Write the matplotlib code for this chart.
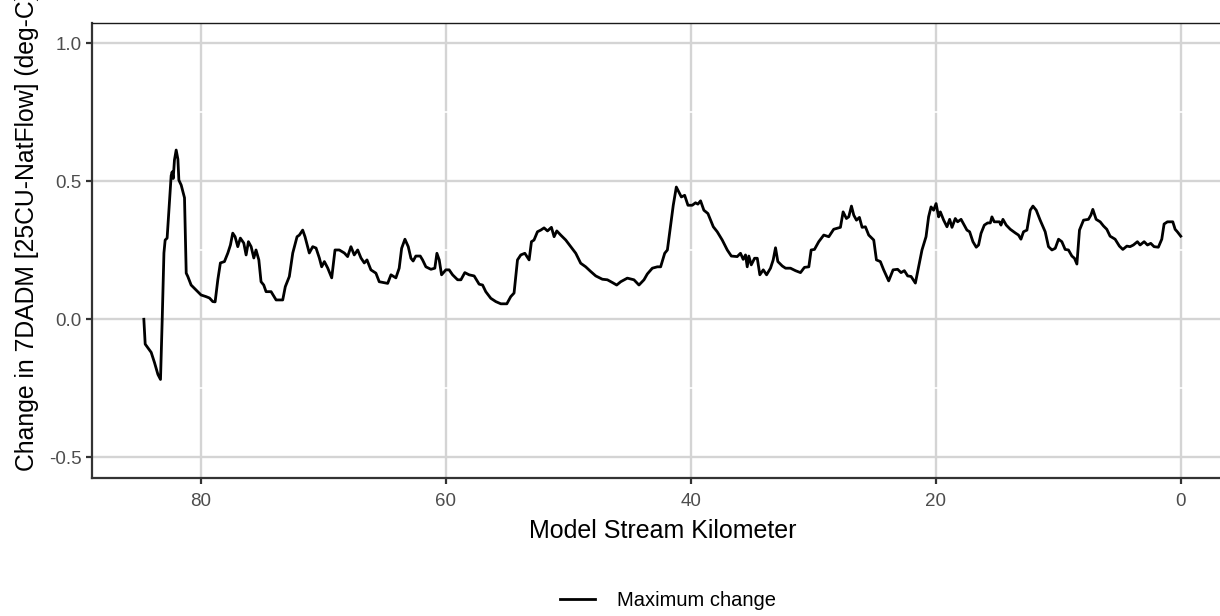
import matplotlib
matplotlib.use("Agg")
import matplotlib.pyplot as plt
from matplotlib.ticker import MultipleLocator, FixedLocator
from matplotlib.lines import Line2D

plt.rcParams['font.family'] = ['Liberation Sans', 'DejaVu Sans']

# Model stream kilometer (reversed axis) and maximum change values
km = [84.67, 84.56, 84.07, 83.80, 83.52, 83.31, 83.17, 83.03, 82.93, 82.77,
      82.66, 82.44, 82.36, 82.27, 82.17, 82.03, 81.89, 81.81, 81.62, 81.35,
      81.21, 81.08, 80.81, 80.40, 80.00, 79.59, 79.31, 79.04, 78.85, 78.63,
      78.42, 78.09, 77.81, 77.60, 77.41, 77.22, 77.00, 76.79, 76.51, 76.32,
      76.13, 75.91, 75.69, 75.51, 75.28, 75.10, 74.88, 74.69, 74.28, 73.87,
      73.33, 73.12, 72.79, 72.51, 72.16, 71.97, 71.70, 71.51, 71.16, 70.88,
      70.61, 70.34, 70.15, 69.93, 69.66, 69.33, 69.06, 68.71, 68.30, 68.03,
      67.76, 67.49, 67.21, 66.94, 66.67, 66.45, 66.13, 65.72, 65.45,
      64.76, 64.49, 64.09, 63.82, 63.62, 63.35, 63.08, 62.86, 62.68, 62.46,
      62.10, 61.91, 61.64, 61.23, 60.91, 60.74, 60.55, 60.36, 60.01, 59.74,
      59.46, 59.05, 58.78, 58.46, 58.11, 57.70, 57.29, 57.01, 56.75, 56.34,
      55.93, 55.52, 55.03, 54.71, 54.44, 54.16, 53.89, 53.56, 53.21, 53.02,
      52.81, 52.53, 52.26, 51.99, 51.71, 51.39, 51.17, 50.95, 50.63, 50.22,
      49.81, 49.40, 49.00, 48.59, 48.18, 47.77, 47.23, 46.82, 46.41, 46.06,
      45.73, 45.19, 44.65, 44.24, 43.83, 43.56, 43.15, 42.74,
      42.47, 42.14, 41.92, 41.60, 41.44, 41.19, 40.98, 40.78, 40.51, 40.24,
      39.89, 39.62, 39.43, 39.21, 38.94, 38.61, 38.17, 37.85, 37.44, 37.03,
      36.70, 36.22, 35.95, 35.73, 35.54, 35.40, 35.27, 35.07, 34.80, 34.58,
      34.37, 34.09, 33.82, 33.50, 33.28, 33.09, 32.90, 32.54, 32.27, 31.87,
      31.46, 31.05, 30.73, 30.37, 30.18, 29.91, 29.56, 29.15, 28.74, 28.34,
      27.79, 27.57, 27.30, 27.11, 26.89, 26.70, 26.48, 26.24, 26.02, 25.75,
      25.48, 25.07, 24.85, 24.53, 24.26, 23.85, 23.49, 23.12, 22.84, 22.57,
      22.30, 22.02, 21.67, 21.40, 21.13, 20.80, 20.59, 20.39, 20.18, 19.98,
      19.77,
      19.63, 19.36, 19.09, 18.87, 18.68, 18.41, 18.22, 17.94, 17.68, 17.46,
      17.24, 16.97, 16.70, 16.51, 16.31, 16.04, 15.77, 15.55, 15.42, 15.23,
      14.80, 14.68, 14.52, 14.25, 13.92, 13.52, 13.25, 13.05, 12.84, 12.56,
      12.29, 12.07, 11.80, 11.48, 11.07, 10.80, 10.52, 10.25, 9.98, 9.71,
      9.44, 9.17, 8.89, 8.68, 8.48, 8.27, 7.94, 7.54, 7.34, 7.18,
      6.91, 6.58, 6.31, 6.04, 5.77, 5.36, 5.01, 4.73, 4.40, 4.14,
      3.87, 3.54, 3.32, 2.99, 2.72, 2.45, 2.18, 1.83, 1.55, 1.36,
      1.09, 0.65, 0.46, 0.28, 0.00]

max_change = [0.000, -0.090, -0.120, -0.157, -0.200, -0.218, 0.000, 0.240, 0.287, 0.294,
              0.371, 0.520, 0.534, 0.510, 0.577, 0.613, 0.580, 0.504, 0.486, 0.440,
              0.167, 0.155, 0.124, 0.106, 0.088, 0.082, 0.077, 0.064, 0.063, 0.143,
              0.204, 0.209, 0.240, 0.269, 0.312, 0.299, 0.263, 0.294, 0.276, 0.233,
              0.281, 0.263, 0.222, 0.251, 0.215, 0.136, 0.124, 0.100, 0.100, 0.070,
              0.070, 0.118, 0.155, 0.240, 0.299, 0.305, 0.323, 0.299, 0.240, 0.263,
              0.258, 0.222, 0.190, 0.209, 0.186, 0.150, 0.251, 0.251, 0.240, 0.227,
              0.263, 0.233, 0.251, 0.222, 0.204, 0.215, 0.179, 0.167, 0.136,
              0.130, 0.161, 0.150, 0.185, 0.257, 0.290, 0.263, 0.221, 0.211, 0.229,
              0.229, 0.215, 0.190, 0.181, 0.185, 0.239, 0.215, 0.161, 0.179, 0.179,
              0.161, 0.143, 0.143, 0.169, 0.161, 0.157, 0.127, 0.124, 0.100, 0.076,
              0.064, 0.056, 0.056, 0.082, 0.095, 0.215, 0.233, 0.239, 0.215, 0.281,
              0.287, 0.317, 0.323, 0.331, 0.320, 0.333, 0.299, 0.320, 0.305, 0.287,
              0.263, 0.239, 0.203, 0.190, 0.173, 0.157, 0.145, 0.143, 0.133, 0.124,
              0.136, 0.149, 0.143, 0.124, 0.143, 0.164, 0.185, 0.190,
              0.190, 0.239, 0.251, 0.359, 0.413, 0.479, 0.461, 0.443, 0.449, 0.413,
              0.413, 0.422, 0.417, 0.429, 0.395, 0.383, 0.335, 0.317, 0.287, 0.251,
              0.229, 0.227, 0.239, 0.217, 0.233, 0.190, 0.229, 0.197, 0.221, 0.221,
              0.161, 0.179, 0.161, 0.185, 0.215, 0.259, 0.209, 0.193, 0.185, 0.185,
              0.176, 0.169, 0.188, 0.190, 0.251, 0.253, 0.281, 0.305, 0.299, 0.326,
              0.333, 0.389, 0.365, 0.371, 0.410, 0.377, 0.359, 0.369, 0.333, 0.335,
              0.305, 0.287, 0.215, 0.209, 0.179, 0.139, 0.179, 0.181, 0.169, 0.176,
              0.157, 0.155, 0.131, 0.190, 0.251, 0.299, 0.371, 0.407, 0.395, 0.419,
              0.371,
              0.389, 0.359, 0.335, 0.362, 0.333, 0.365, 0.353, 0.362, 0.341, 0.323,
              0.317, 0.281, 0.261, 0.269, 0.311, 0.341, 0.349, 0.349, 0.371, 0.353,
              0.353, 0.341, 0.362, 0.341, 0.326, 0.313, 0.305, 0.290, 0.317, 0.323,
              0.395, 0.410, 0.395, 0.359, 0.317, 0.263, 0.251, 0.257, 0.290, 0.281,
              0.253, 0.251, 0.229, 0.221, 0.200, 0.323, 0.359, 0.362, 0.377, 0.398,
              0.362, 0.353, 0.338, 0.326, 0.301, 0.290, 0.265, 0.253, 0.265, 0.263,
              0.269, 0.281, 0.269, 0.281, 0.269, 0.275, 0.263, 0.261, 0.290, 0.345,
              0.353, 0.353, 0.326, 0.317, 0.301]

x_ticks = [80, 60, 40, 20, 0]
x_tick_labels = ["80", "60", "40", "20", "0"]
y_ticks = [-0.5, 0.0, 0.5, 1.0]
y_tick_labels = ["-0.5", "0.0", "0.5", "1.0"]
x_title = "Model Stream Kilometer"
y_title = "Change in 7DADM [25CU-NatFlow] (deg-C)"
legend_label = "Maximum change"

W, H = 1220, 616
fig = plt.figure(figsize=(W / 100, H / 100), dpi=100)
fig.patch.set_facecolor("white")

# panel in pixel coords: left 92, right 1232.6 (cropped), top 22.5, bottom 478
L, R, T, B = 92, 1232.6, 22.5, 478
ax = fig.add_axes([L / W, (H - B) / H, (R - L) / W, (B - T) / H])

xmax, xmin = max(km), min(km)
xpad = 0.05 * (xmax - xmin)
ax.set_xlim(xmax + xpad, xmin - xpad)
ax.set_ylim(-0.575, 1.075)

ax.xaxis.set_major_locator(FixedLocator(x_ticks))
ax.set_xticklabels(x_tick_labels)
ax.yaxis.set_major_locator(FixedLocator(y_ticks))
ax.set_yticklabels(y_tick_labels)
ax.xaxis.set_minor_locator(MultipleLocator(10))
ax.yaxis.set_minor_locator(MultipleLocator(0.25))

ax.grid(which="major", color="#D4D4D4", linewidth=1.7)
ax.grid(which="minor", color="white", linewidth=1.2)
ax.set_axisbelow(True)
ax.tick_params(which="minor", length=0)
ax.tick_params(axis="both", which="major", length=4.5, width=1.6, color="#333333",
               labelcolor="#4D4D4D", labelsize=13.5)
ax.tick_params(axis="x", which="major", pad=6)
ax.tick_params(axis="y", which="major", pad=3)

for s in ["top", "right"]:
    ax.spines[s].set_color("#1A1A1A")
    ax.spines[s].set_linewidth(1.0)
for s in ["left", "bottom"]:
    ax.spines[s].set_color("#333333")
    ax.spines[s].set_linewidth(1.6)

ax.plot(km, max_change, color="black", linewidth=2.0, zorder=5,
        solid_joinstyle="round")

ax.set_xlabel(x_title, fontsize=18, color="black", labelpad=7)

# y title: starts at y=471 px, rotated, cropped at top as in reference
fig.text(27 / W, (H - 471) / H, y_title, rotation=90, rotation_mode="anchor",
         ha="left", va="center", fontsize=17.8, color="black")

# legend at bottom
handle = Line2D([0], [0], color="black", linewidth=2.0)
fig.legend([handle], [legend_label], loc="center", bbox_to_anchor=(668 / W, (H - 601) / H),
           frameon=False, fontsize=14.5, handlelength=1.75, handletextpad=1.1)

fig.savefig("out.png", dpi=100, facecolor="white")
